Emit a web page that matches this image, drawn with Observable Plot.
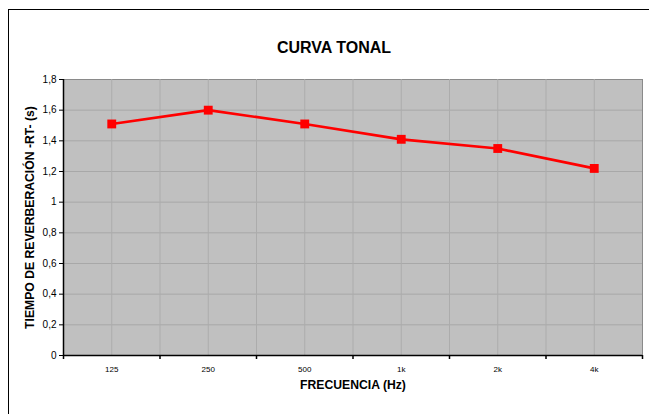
<!DOCTYPE html>
<html>
<head>
<meta charset="utf-8">
<script src="https://cdn.jsdelivr.net/npm/d3@7"></script>
<script src="https://cdn.jsdelivr.net/npm/@observablehq/plot@0.6"></script>
<style>
  html, body { margin: 0; padding: 0; background: #fff; overflow: hidden; }
  #wrap { position: relative; width: 649px; height: 414px; overflow: hidden; }
  #border { position: absolute; left: 8px; top: 9px; width: 700px; height: 500px;
            border: 1.5px solid #000; box-sizing: border-box; pointer-events: none; }
  svg { font-family: "Liberation Sans", Arial, sans-serif; }
</style>
</head>
<body>
<div id="wrap"><div id="border"></div></div>
<script>
// ---- data ----
const categories = ["125", "250", "500", "1k", "2k", "4k"];
const values = [1.51, 1.60, 1.51, 1.41, 1.35, 1.22];
const yTicks = [0, 0.2, 0.4, 0.6, 0.8, 1, 1.2, 1.4, 1.6, 1.8];
const title = "CURVA TONAL";
const xLabel = "FRECUENCIA (Hz)";
const yLabel = "TIEMPO DE REVERBERACIÓN -RT- (s)";

const data = categories.map((c, i) => ({cat: c, pos: i + 0.5, value: values[i]}));
const bounds = d3.range(0, categories.length + 1);
const gridX = d3.range(0, categories.length + 0.01, 0.5);
const fmt = d => String(+d.toFixed(1)).replace(".", ",");

const chart = Plot.plot({
  width: 649,
  height: 414,
  marginLeft: 63,
  marginRight: 7,
  marginTop: 79,
  marginBottom: 59,
  style: {fontFamily: "'Liberation Sans', Arial, sans-serif", background: "transparent", overflow: "visible"},
  x: {type: "linear", domain: [0, categories.length], axis: null},
  y: {type: "linear", domain: [0, 1.8], ticks: yTicks, tickFormat: fmt, tickSize: 4, tickPadding: 3, label: null, fontSize: 9.5},
  marks: [
    Plot.frame({fill: "#c0c0c0", stroke: "#8a8a8a"}),
    Plot.ruleY(yTicks.filter(d => d > 0 && d < 1.8), {stroke: "#a8a8a8", strokeWidth: 1}),
    Plot.ruleX(gridX.filter(d => d > 0 && d < categories.length), {stroke: "#acacac", strokeWidth: 1}),
    Plot.ruleY([0], {stroke: "#000", strokeWidth: 1.5}),
    Plot.ruleX([0], {stroke: "#000", strokeWidth: 1.5}),
    Plot.ruleX(bounds, {x: d => d, y1: 0, y2: 0, insetBottom: -4, strokeWidth: 1.5, stroke: "#000"}),
    Plot.text(data, {x: "pos", y: 0, text: "cat", dy: 13.5, fontSize: 8, fill: "#000"}),
    Plot.line(data, {x: "pos", y: "value", stroke: "#ff0000", strokeWidth: 2.7}),
    Plot.dot(data, {x: "pos", y: "value", symbol: "square", r: 5, fill: "#ff0000", stroke: "none"}),
    Plot.text([title], {frameAnchor: "top", dx: -19, dy: -32, lineAnchor: "middle", textAnchor: "middle", fontSize: 16, fontWeight: "bold", fill: "#000"}),
    Plot.text([xLabel], {frameAnchor: "bottom", dy: 30, lineAnchor: "middle", textAnchor: "middle", fontSize: 12.2, fontWeight: "bold", fill: "#000"}),
    Plot.text([yLabel], {frameAnchor: "left", dx: -33, rotate: -90, lineAnchor: "middle", textAnchor: "middle", fontSize: 12.2, fontWeight: "bold", fill: "#000"})
  ]
});
document.getElementById("wrap").prepend(chart);
</script>
</body>
</html>
